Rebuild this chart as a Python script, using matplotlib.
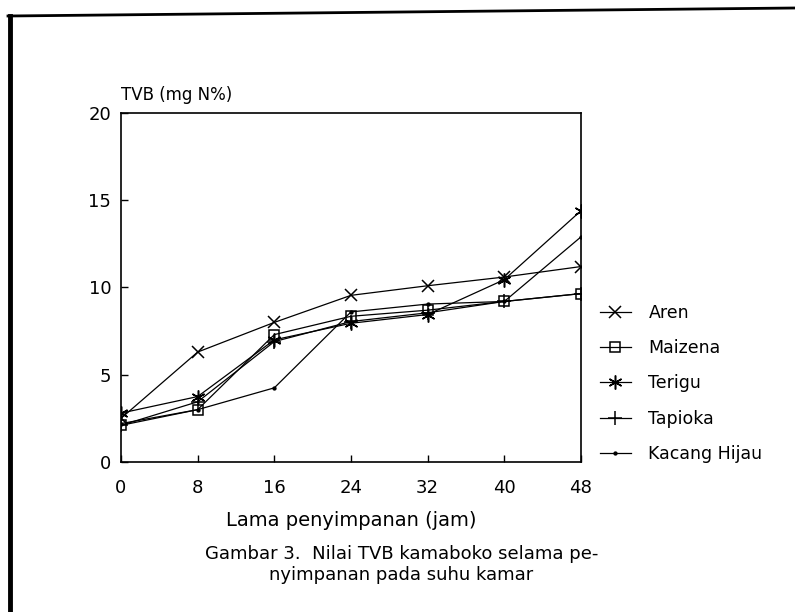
import matplotlib.pyplot as plt
from matplotlib.lines import Line2D

plt.rcParams['font.family'] = ['DejaVu Sans']

jam = [0, 8, 16, 24, 32, 40, 48]
aren = [2.5, 6.3, 8.0, 9.55, 10.1, 10.6, 11.2]
maizena = [2.1, 3.0, 7.3, 8.35, 8.7, 9.2, 9.65]
terigu = [2.8, 3.75, 7.0, 7.95, 8.45, 10.45, 14.4]
tapioka = [2.1, 3.45, 6.9, 8.05, 8.55, 9.2, 9.65]
kacang_hijau = [2.2, 3.0, 4.25, 8.6, 9.05, 9.2, 12.9]

labels = ['Aren', 'Maizena', 'Terigu', 'Tapioka', 'Kacang Hijau']
series = [aren, maizena, terigu, tapioka, kacang_hijau]
markers = ['x', 's', (6, 2, 0), '+', '.']
sizes = [8, 7, 10, 10, 4]

fig = plt.figure(figsize=(7.95, 6.12), dpi=100)
ax = fig.add_axes([0.1522, 0.2451, 0.5786, 0.5703])

handles = []
for vals, lab, m, s in zip(series, labels, markers, sizes):
    ln, = ax.plot(jam, vals, color='black', lw=0.9, marker=m, ms=s,
                  mfc='none' if m == 's' else 'black', mec='black', mew=1.1,
                  label=lab)
    handles.append(ln)

ax.set_xlim(0, 48)
ax.set_ylim(0, 20)
ax.set_xticks(jam)
ax.set_yticks([0, 5, 10, 15, 20])
ax.tick_params(direction='in', length=5, width=1, labelsize=13)
ax.tick_params(axis='x', pad=12)
ax.tick_params(axis='y', pad=7)
for sp in ax.spines.values():
    sp.set_linewidth(1.2)

ax.set_xlabel('Lama penyimpanan (jam)', fontsize=14, labelpad=10)
ax.text(0.0, 1.025, 'TVB (mg N%)', transform=ax.transAxes, fontsize=12,
        ha='left', va='bottom')

ax.legend(handles=handles, loc='center left', bbox_to_anchor=(1.041, 0.225),
          frameon=False, fontsize=12.5, numpoints=1, handlelength=1.8,
          labelspacing=1.0, handletextpad=1.0, borderpad=0, borderaxespad=0)

fig.text(0.505, 0.078, 'Gambar 3.  Nilai TVB kamaboko selama pe-\nnyimpanan pada suhu kamar',
         ha='center', va='center', fontsize=13, linespacing=1.25)

# page frame
fig.add_artist(Line2D([10 / 795, 10 / 795], [1 - 16 / 612, 0], transform=fig.transFigure,
                      color='black', lw=3.5))
fig.add_artist(Line2D([8 / 795, 1.0], [1 - 16 / 612, 1 - 8 / 612], transform=fig.transFigure,
                      color='black', lw=2))

fig.savefig('out.png', dpi=100)
